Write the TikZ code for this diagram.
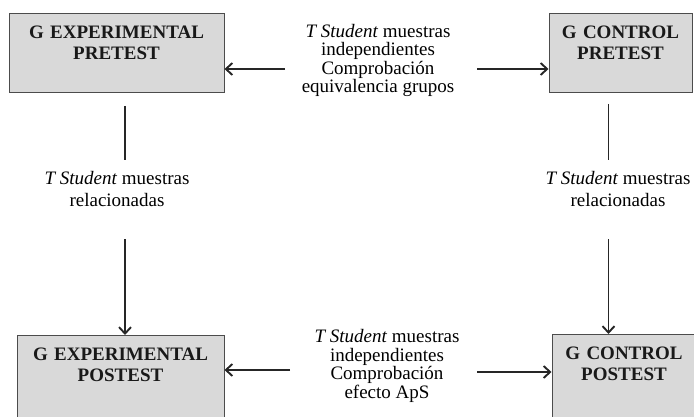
\documentclass[tikz,border=0pt]{standalone}
\usepackage{fontspec}
\setmainfont{Liberation Serif}
\usetikzlibrary{arrows.meta}

\begin{document}
\begin{tikzpicture}[x=1pt, y=-1pt, >={Straight Barb[length=6.5pt,width=12pt]},
    grupo/.style={draw=black!70, line width=1pt, fill=black!15, align=center, anchor=north,
        inner xsep=0pt, inner ysep=12pt, text height=13pt, text=black!90,
        font=\fontsize{19}{21}\selectfont\bfseries},
    prueba/.style={align=center, inner sep=0pt, font=\fontsize{19}{18.5}\selectfont},
    relac/.style={align=center, inner sep=0pt, font=\fontsize{19}{22}\selectfont},
    linea/.style={line width=1.9pt, draw=black!85}]

        % Fix the canvas (bottom boxes run off the page)
        \useasboundingbox (0,0) rectangle (694,417);
        \clip (0,0) rectangle (694,417);

        % Group boxes
        \node[grupo, text width=215pt, text depth=42pt] (ep) at (116.5,13) {G EXPERIMENTAL\\PRETEST};
        \node[grupo, text width=143pt, text depth=42pt] (cp) at (620.5,13) {G CONTROL\\PRETEST};
        \node[grupo, text width=207pt, text depth=60pt] (epo) at (120.5,335) {G EXPERIMENTAL\\POSTEST};
        \node[grupo, text width=144pt, text depth=60pt] (cpo) at (624,334) {G CONTROL\\POSTEST};

        % Tests between groups
        \node[prueba] (tA) at (378,60.5) {\textit{T Student} muestras\\independientes\\Comprobación\\equivalencia grupos};
        \node[prueba] (tB) at (387,366) {\textit{T Student} muestras\\independientes\\Comprobación\\efecto ApS};

        % Tests within groups
        \node[relac] (rL) at (117,189.5) {\textit{T Student} muestras\\relacionadas};
        \node[relac] (rR) at (618,189.5) {\textit{T Student} muestras\\relacionadas};

        % Free ends of the arrows
        \coordinate (aTL) at (285,69);
        \coordinate (aTR) at (477,69);
        \coordinate (aBL) at (290,370);
        \coordinate (aBR) at (477,372);
        \coordinate (xL) at (125,0);
        \coordinate (xR) at (608.5,0);

        % Horizontal arrows
        \draw[linea,->] (aTL) -- (ep.east |- aTL);
        \draw[linea,->] (aTR) -- (cp.west |- aTR);
        \draw[linea,->] (aBL) -- (epo.east |- aBL);
        \draw[linea,->] (aBR) -- (cpo.west |- aBR);

        % Vertical lines and arrows
        \draw[linea] ([yshift=-13pt]ep.south -| xL) -- ([yshift=12pt]rL.north -| xL);
        \draw[linea,->] ([yshift=-32pt]rL.south -| xL) -- (epo.north -| xL);
        \draw[linea] ([yshift=-11pt]cp.south -| xR) -- ([yshift=12pt]rR.north -| xR);
        \draw[linea,->] ([yshift=-32pt]rR.south -| xR) -- (cpo.north -| xR);

\end{tikzpicture}
\end{document}
